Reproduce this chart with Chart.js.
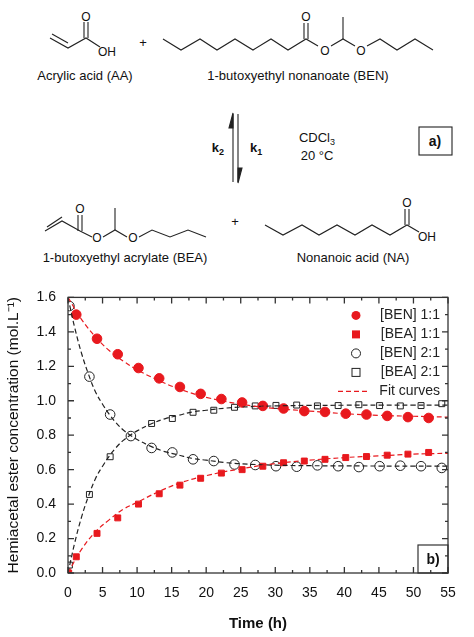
<!DOCTYPE html>
<html><head><meta charset="utf-8">
<script src="https://cdn.jsdelivr.net/npm/chart.js@4"></script>
<style>
body{margin:0;width:474px;height:637px;background:#fff;position:relative;overflow:hidden;font-family:"Liberation Sans",Arial,sans-serif}
svg{position:absolute;left:0;top:0}
#wrap{position:absolute;left:0;top:285px;width:474px;height:352px}
svg text{font-family:"Liberation Sans",Arial,sans-serif;fill:#111}
</style></head><body>
<svg width="474" height="285" stroke="#222" stroke-width="1.1" fill="none">
<polyline points="50,38 68,48 86,38 100,47"/>
<line x1="52" y1="34" x2="68" y2="43"/>
<line x1="84" y1="38" x2="84" y2="22"/><line x1="88" y1="38" x2="88" y2="22"/>
<text x="86" y="21" font-size="12" text-anchor="middle" stroke="none">O</text>
<text x="98" y="56" font-size="12" stroke="none">OH</text>
<text x="143" y="47" font-size="13" stroke="none" text-anchor="middle">+</text>
<polyline points="163,39 181,50 200,39 217,50 235,39 253,50 271,39 288,50 306,39 318,46"/>
<line x1="304" y1="39" x2="304" y2="23"/><line x1="308" y1="39" x2="308" y2="23"/>
<text x="306" y="21" font-size="12" text-anchor="middle" stroke="none">O</text>
<text x="325" y="55" font-size="12" text-anchor="middle" stroke="none">O</text>
<polyline points="331,46 343,39 355,46"/><line x1="343" y1="39" x2="343" y2="17"/>
<text x="361" y="55" font-size="12" text-anchor="middle" stroke="none">O</text>
<polyline points="367,46 380,39 397,50 415,39 433,50"/>
<text x="85" y="80" font-size="13" text-anchor="middle" stroke="none">Acrylic acid (AA)</text>
<text x="298" y="80" font-size="13" text-anchor="middle" stroke="none">1-butoxyethyl nonanoate (BEN)</text>
<line x1="233" y1="114" x2="233" y2="182"/><polygon points="233,113 229,128 233,128" fill="#222"/>
<line x1="238" y1="114" x2="238" y2="182"/><polygon points="238,183 242,168 238,168" fill="#222"/>
<text x="224" y="152" font-size="13" font-weight="bold" text-anchor="end" stroke="none">k<tspan font-size="9" dy="3">2</tspan></text>
<text x="250" y="152" font-size="13" font-weight="bold" stroke="none">k<tspan font-size="9" dy="3">1</tspan></text>
<text x="317" y="142" font-size="13" text-anchor="middle" stroke="none">CDCl<tspan font-size="9" dy="3">3</tspan></text>
<text x="317" y="160" font-size="13" text-anchor="middle" stroke="none">20 °C</text>
<rect x="419" y="127" width="33" height="28"/>
<text x="435" y="146" font-size="14" font-weight="bold" text-anchor="middle" stroke="none">a)</text>
<polyline points="45,231 62,221 80,231 92,237"/>
<line x1="47" y1="227" x2="62" y2="217"/>
<line x1="78" y1="231" x2="78" y2="215"/><line x1="82" y1="231" x2="82" y2="215"/>
<text x="80" y="213" font-size="12" text-anchor="middle" stroke="none">O</text>
<text x="97" y="242" font-size="12" text-anchor="middle" stroke="none">O</text>
<polyline points="103,237 115,230 127,237"/><line x1="115" y1="230" x2="115" y2="208"/>
<text x="133" y="242" font-size="12" text-anchor="middle" stroke="none">O</text>
<polyline points="139,237 152,230 170,237 188,230 206,237"/>
<text x="235" y="226" font-size="13" text-anchor="middle" stroke="none">+</text>
<polyline points="265,225 283,235 302,225 319,235 337,225 355,235 372,225 390,235 407,225 419,232"/>
<line x1="405" y1="225" x2="405" y2="209"/><line x1="409" y1="225" x2="409" y2="209"/>
<text x="407" y="207" font-size="12" text-anchor="middle" stroke="none">O</text>
<text x="418" y="241" font-size="12" stroke="none">OH</text>
<text x="125" y="262" font-size="13" text-anchor="middle" stroke="none">1-butoxyethyl acrylate (BEA)</text>
<text x="353" y="262" font-size="13" text-anchor="middle" stroke="none">Nonanoic acid (NA)</text>
</svg>
<div id="wrap"><canvas id="c"></canvas></div>
<script>
const tA=[1.2,4.2,7.2,10.2,13.2,16.2,19.2,22.2,25.2,28.2,31.2,34.2,37.2,40.2,43.2,46.2,49.2,52.2];
const ben11=[1.50,1.36,1.27,1.19,1.13,1.08,1.04,1.01,0.99,0.97,0.955,0.94,0.935,0.925,0.92,0.912,0.905,0.90];
const tA0=[0.1,1.2,4.2,7.2,10.2,13.2,16.2,19.2,22.2,25.2,28.2,31.2,34.2,37.2,40.2,43.2,46.2,49.2,52.2];
const bea11=[0.0,0.094,0.23,0.32,0.40,0.46,0.51,0.55,0.58,0.60,0.62,0.64,0.65,0.66,0.67,0.676,0.684,0.69,0.70];
const tB=[0.2,3.1,6.1,9.1,12.1,15.1,18.1,21.1,24.1,27.1,30.1,33.1,36.1,39.1,42.1,45.1,48.1,51.1,54.1];
const ben21=[1.55,1.14,0.92,0.795,0.726,0.70,0.66,0.65,0.63,0.627,0.62,0.617,0.625,0.62,0.615,0.62,0.623,0.62,0.61];
const bea21=[0.046,0.456,0.675,0.793,0.868,0.897,0.933,0.945,0.962,0.97,0.973,0.975,0.97,0.972,0.977,0.972,0.97,0.972,0.983];
const tFit1=[0,2,4,6,8,10,13,16,20,25,30,35,40,45,50,55];
const fitBen11=[1.60,1.47,1.37,1.29,1.23,1.18,1.12,1.07,1.02,0.98,0.955,0.94,0.925,0.915,0.91,0.905];
const fitBea11=[0,0.14,0.24,0.31,0.37,0.41,0.47,0.52,0.565,0.605,0.635,0.655,0.67,0.68,0.69,0.695];
const tFit2=[0,1,2,3,4,5,6,7,8,9,10,12,14,16,18,20,23,26,30,35,40,45,50,55];
const fitBen21=[1.6,1.42,1.27,1.15,1.05,0.98,0.92,0.87,0.83,0.80,0.775,0.735,0.705,0.685,0.665,0.655,0.64,0.632,0.626,0.623,0.622,0.621,0.62,0.62];
const fitBea21=[0,0.18,0.33,0.45,0.55,0.62,0.68,0.73,0.77,0.80,0.825,0.865,0.895,0.915,0.935,0.945,0.958,0.965,0.97,0.973,0.974,0.975,0.975,0.975];
const xTicks=[0,5,10,15,20,25,30,35,40,45,50,55];
const yTicks=[0.0,0.2,0.4,0.6,0.8,1.0,1.2,1.4,1.6];
const legendLabels=["[BEN] 1:1","[BEA] 1:1","[BEN] 2:1","[BEA] 2:1","Fit curves"];
const RED='#e8191e';
const xy=(t,v)=>t.map((x,i)=>({x,y:v[i]}));
function fit(t,v,c){return {type:'line',data:xy(t,v),borderColor:c,borderWidth:1.2,borderDash:[5,3],pointRadius:0,tension:0.4,fill:false};}
function pts(t,v,style,fillC){return {type:'scatter',data:xy(t,v),pointStyle:style,pointRadius:style==='rect'?4.2:4.8,backgroundColor:fillC,borderColor:fillC==='#fff'?'#222':RED,borderWidth:1};}
const ticksPlugin={id:'tk',afterDraw(ch){
 const c=ch.ctx,a=ch.chartArea,x=ch.scales.x,y=ch.scales.y;
 c.save();c.strokeStyle='#333';c.lineWidth=1.3;c.strokeRect(a.left,a.top,a.right-a.left,a.bottom-a.top);
 c.beginPath();
 for(let v=0;v<=55;v+=2.5){const L=(v%5===0)?6:3,p=x.getPixelForValue(v);c.moveTo(p,a.bottom);c.lineTo(p,a.bottom-L);c.moveTo(p,a.top);c.lineTo(p,a.top+L);}
 for(let v=0;v<=16;v++){const L=(v%2===0)?6:3,p=y.getPixelForValue(v/10);c.moveTo(a.left,p);c.lineTo(a.left+L,p);c.moveTo(a.right,p);c.lineTo(a.right-L,p);}
 c.stroke();
 c.font='14px "Liberation Sans",Arial';c.textBaseline='middle';
 const lx=a.right-8,sx=a.right-92;
 legendLabels.forEach((s,i)=>{const yy=a.top+18+i*19;c.textAlign='right';c.fillStyle='#222';c.fillText(s,lx,yy);
  c.beginPath();
  if(i===0){c.fillStyle=RED;c.arc(sx,yy,4.5,0,7);c.fill();}
  else if(i===1){c.fillStyle=RED;c.fillRect(sx-4,yy-4,8,8);}
  else if(i===2){c.strokeStyle='#222';c.lineWidth=1;c.arc(sx,yy,4.5,0,7);c.stroke();}
  else if(i===3){c.strokeStyle='#222';c.lineWidth=1;c.strokeRect(sx-4,yy-4,8,8);}
  else {c.strokeStyle=RED;c.lineWidth=1.2;c.setLineDash([5,3]);c.moveTo(sx-18,yy);c.lineTo(sx+14,yy);c.stroke();c.setLineDash([]);}
 });
 c.strokeStyle='#333';c.lineWidth=1.2;c.strokeRect(a.right-30,a.bottom-28,30,28);
 c.font='bold 14px "Liberation Sans",Arial';c.textAlign='center';c.fillStyle='#111';c.fillText('b)',a.right-15,a.bottom-13);
 c.restore();}};
new Chart(document.getElementById('c'),{
 data:{datasets:[fit(tFit1,fitBen11,RED),fit(tFit1,fitBea11,RED),fit(tFit2,fitBen21,'#222'),fit(tFit2,fitBea21,'#222'),
  pts(tA,ben11,'circle',RED),pts(tA0,bea11,'rect',RED),pts(tB,ben21,'circle','#fff'),pts(tB,bea21,'rect','#fff')]},
 options:{responsive:true,maintainAspectRatio:false,animation:false,
  layout:{padding:{top:10,right:26,left:0,bottom:0}},
  plugins:{legend:{display:false},tooltip:{enabled:false}},
  scales:{
   x:{type:'linear',min:0,max:55,afterBuildTicks:s=>{s.ticks=xTicks.map(v=>({value:v}));},
     afterFit:s=>{s.height=64;},
     grid:{display:false},border:{display:false},
     ticks:{color:'#111',font:{size:14,family:'"Liberation Sans",Arial'},padding:4},
     title:{display:true,text:'Time (h)',color:'#111',font:{size:15,weight:'bold',family:'"Liberation Sans",Arial'},padding:{top:4}}},
   y:{type:'linear',min:0,max:1.6,afterBuildTicks:s=>{s.ticks=yTicks.map(v=>({value:v}));},
     afterFit:s=>{s.width=68;},
     grid:{display:false},border:{display:false},
     ticks:{color:'#111',font:{size:14,family:'"Liberation Sans",Arial'},padding:4,callback:v=>v.toFixed(1)},
     title:{display:true,text:'Hemiacetal ester concentration (mol.L⁻¹)',color:'#111',font:{size:15.5,family:'"Liberation Sans",Arial'},padding:{bottom:2}}}
  }},
 plugins:[ticksPlugin]});
</script></body></html>
